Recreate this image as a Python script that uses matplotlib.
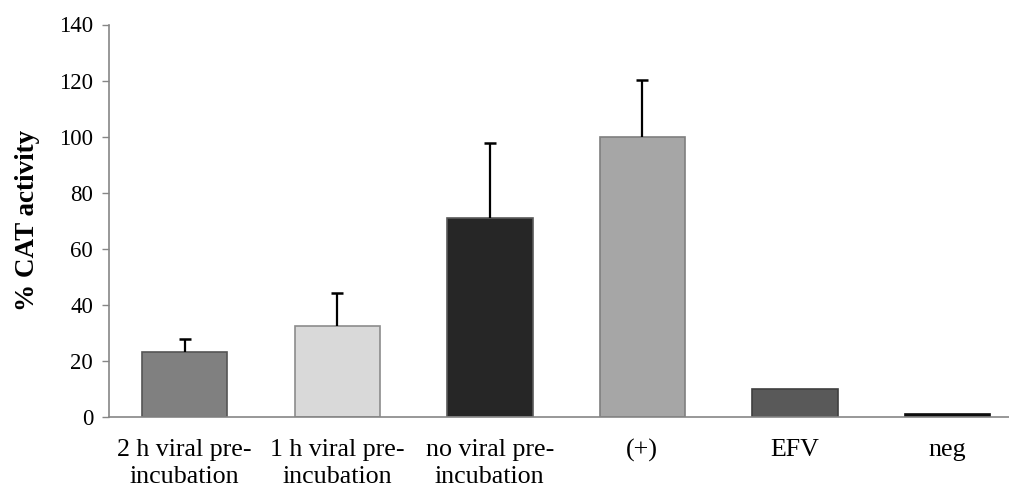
import matplotlib.pyplot as plt

plt.rcParams['font.family'] = ['Liberation Serif', 'DejaVu Serif']

categories = ['2 h viral pre-\nincubation', '1 h viral pre-\nincubation', 'no viral pre-\nincubation',
              '(+)', 'EFV', 'neg']
values = [23.3, 32.5, 70.9, 100.0, 10.0, 1.0]
errors = [4.4, 11.6, 26.7, 20.2, 0, 0]
colors = ['#808080', '#d9d9d9', '#262626', '#a6a6a6', '#595959', '#0d0d0d']
edges = ['#555555', '#8c8c8c', '#5a5a5a', '#7f7f7f', '#3f3f3f', '#0d0d0d']
yticks = [0, 20, 40, 60, 80, 100, 120, 140]

fig = plt.figure(figsize=(10.09, 4.88), dpi=100)
ax = fig.add_axes([108.5 / 1009, 1 - 417 / 488, (1009 - 108.5) / 1009, (417 - 24.5) / 488])

x = range(len(categories))
ax.bar(x, values, width=0.56, color=colors, edgecolor=edges, linewidth=1.2, zorder=2)
# only the upper half of each error bar is shown
for i in x:
    if errors[i] > 0:
        top = values[i] + errors[i]
        ax.vlines(i, values[i], top, color='black', linewidth=1.6, zorder=3)
        ax.plot(i, top, marker='_', markersize=9, markeredgewidth=1.8, color='black', zorder=3)

ax.set_xlim(-0.5, 5.404)
ax.set_ylim(0, 140)
ax.set_yticks(yticks)
ax.set_xticks(list(x))
ax.set_xticklabels(categories, fontsize=18.7, linespacing=1.27)
ax.tick_params(axis='y', labelsize=16.5, length=5, width=1, color='#868686', pad=6)
ax.tick_params(axis='x', length=0, pad=16)

for s in ['top', 'right']:
    ax.spines[s].set_visible(False)
for s in ['left', 'bottom']:
    ax.spines[s].set_color('#868686')
    ax.spines[s].set_linewidth(1.2)

ax.set_ylabel('% CAT activity', fontsize=19.5, fontweight='bold', labelpad=14)

plt.savefig('out.png', dpi=100)
